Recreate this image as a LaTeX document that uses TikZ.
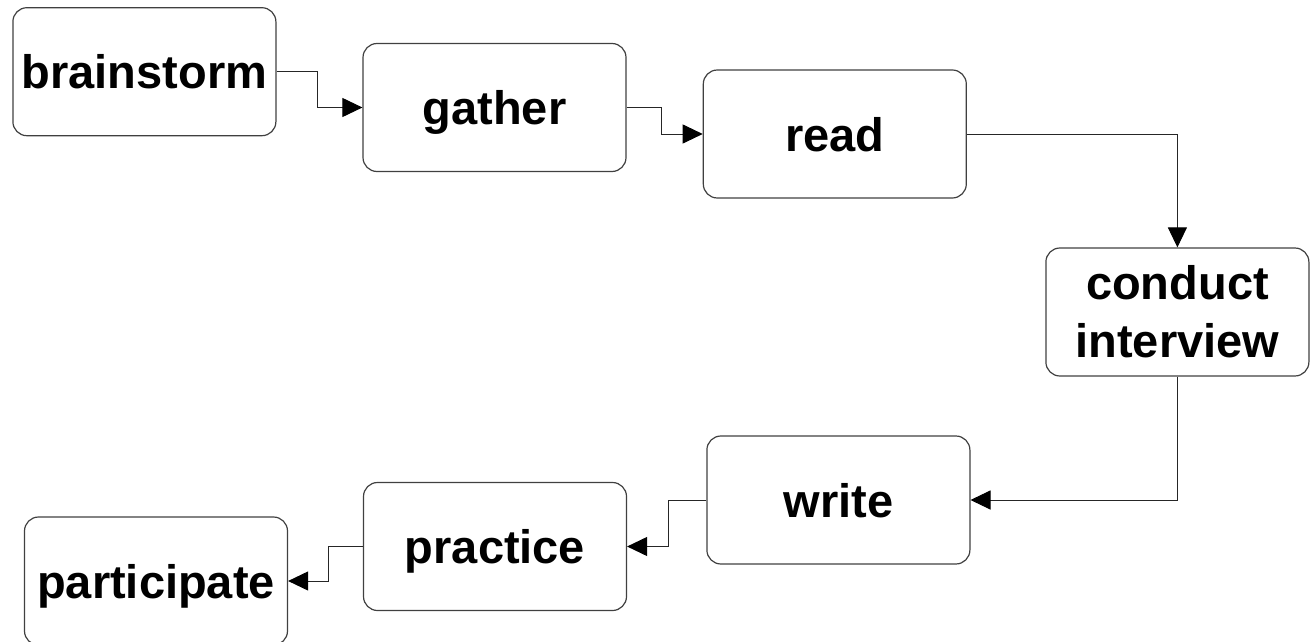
\documentclass[tikz,border=0pt]{standalone}
\usepackage{fontspec}
\setmainfont{Liberation Sans}
\usetikzlibrary{arrows.meta}
\begin{document}
\begin{tikzpicture}[x=1pt,y=-1pt,
  stepbox/.style={draw=black!75, line width=1.2pt, rounded corners=14pt,
    minimum width=263pt, minimum height=128pt, inner sep=0pt,
    align=center, font=\fontsize{47}{58}\selectfont\bfseries},
  oneline/.style={stepbox, text height=34pt, text depth=0pt},
  flow/.style={draw=black!85, line width=1pt,
    -{Triangle[length=20pt,width=19pt,fill=black,color=black]}}]
\clip (0,0) rectangle (1315,642);
\useasboundingbox (0,0) rectangle (1315,642);

% process steps
\node[oneline] (brainstorm)  at (144.4,71.7)  {brainstorm};
\node[oneline] (gather)      at (494.5,107.5) {gather};
\node[oneline] (read)        at (834.8,134)   {read};
\node[stepbox] (conduct)     at (1177.4,312)  {conduct\\interview};
\node[oneline] (write)       at (838.4,500)   {write};
\node[oneline] (practice)    at (495,546.5)   {practice};
\node[oneline] (participate) at (156,581)     {participate};

% connectors
\draw[flow] (brainstorm.east) -- ++(41,0) |- (gather.west);
\draw[flow] (gather.east) -- ++(35,0) |- (read.west);
\draw[flow] (read.east) -| (conduct.north);
\draw[flow] (conduct.south) |- (write.east);
\draw[flow] (write.west) -- ++(-38,0) |- (practice.east);
\draw[flow] (practice.west) -- ++(-34,0) |- (participate.east);
\end{tikzpicture}
\end{document}
